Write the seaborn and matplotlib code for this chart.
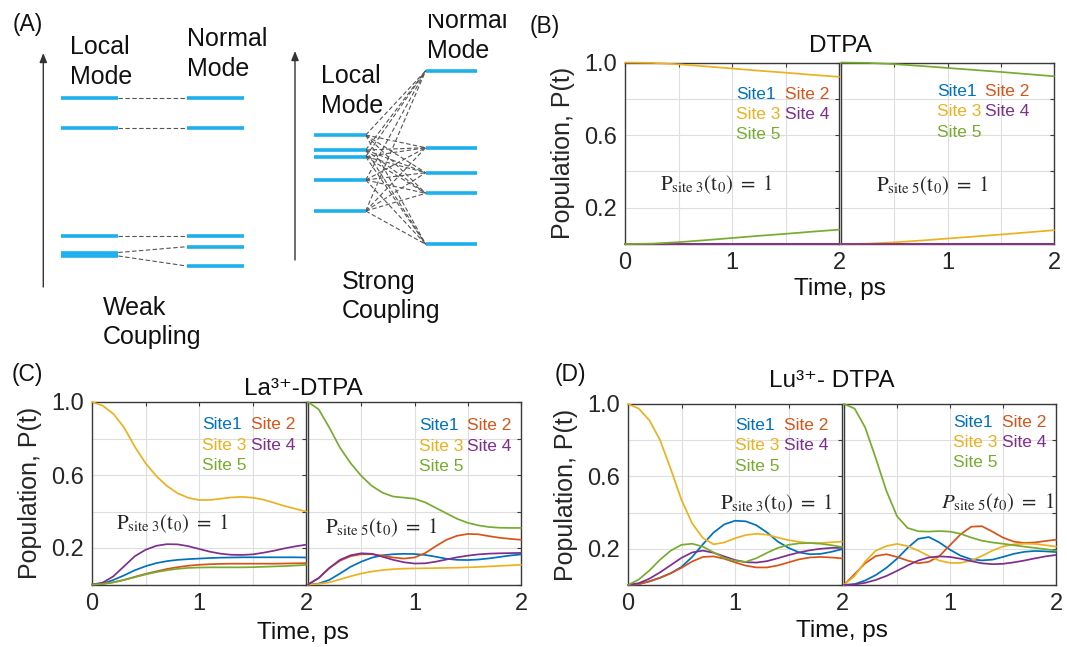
import numpy as np
import pandas as pd
import matplotlib
matplotlib.use("Agg")
import matplotlib.pyplot as plt
from matplotlib.patches import Rectangle
import seaborn as sns

# ---------------------------------------------------------------- data
SITES = ["Site1", "Site 2", "Site 3", "Site 4", "Site 5"]
SITE_COLORS = ["#0072BD", "#D95319", "#EDB120", "#7E2F8E", "#77AC30"]

T_COARSE = [0.0, 0.25, 0.5, 0.75, 1.0, 1.25, 1.5, 1.75, 2.0]
T_FINE = [0.0, 0.1, 0.2, 0.3, 0.4, 0.5, 0.6, 0.7, 0.8, 0.9, 1.0,
          1.1, 1.2, 1.3, 1.4, 1.5, 1.6, 1.7, 1.8, 1.9, 2.0]

# free DTPA, population initially on site 3
dtpa3_site1 = [0.0, 0.0, 0.0, 0.0, 0.0, 0.0, 0.0, 0.0, 0.0]
dtpa3_site2 = [0.0, 0.0, 0.0, 0.0, 0.0, 0.0, 0.0, 0.0, 0.0]
dtpa3_site3 = [1.0, 0.998, 0.99, 0.979, 0.967, 0.955, 0.944, 0.932, 0.921]
dtpa3_site4 = [0.0, 0.0, 0.0, 0.0, 0.0, 0.0, 0.0, 0.0, 0.0]
dtpa3_site5 = [0.0, 0.002, 0.01, 0.021, 0.033, 0.045, 0.056, 0.068, 0.079]
# free DTPA, population initially on site 5
dtpa5_site1 = [0.0, 0.0, 0.0, 0.0, 0.0, 0.0, 0.0, 0.0, 0.0]
dtpa5_site2 = [0.0, 0.0, 0.0, 0.0, 0.0, 0.0, 0.0, 0.0, 0.0]
dtpa5_site3 = [0.0, 0.002, 0.009, 0.019, 0.03, 0.041, 0.052, 0.064, 0.076]
dtpa5_site4 = [0.0, 0.0, 0.0, 0.0, 0.0, 0.0, 0.0, 0.0, 0.0]
dtpa5_site5 = [1.0, 0.998, 0.991, 0.981, 0.97, 0.959, 0.948, 0.936, 0.924]

# La3+-DTPA, initially on site 3
la3_site1 = [0.0, 0.004, 0.025, 0.05, 0.078, 0.1, 0.117, 0.128, 0.135, 0.139, 0.142,
             0.145, 0.147, 0.148, 0.149, 0.149, 0.149, 0.149, 0.149, 0.149, 0.148]
la3_site2 = [0.0, 0.003, 0.012, 0.025, 0.042, 0.058, 0.072, 0.085, 0.095, 0.103, 0.108,
             0.111, 0.113, 0.114, 0.114, 0.114, 0.114, 0.114, 0.115, 0.116, 0.117]
la3_site3 = [1.0, 0.98, 0.935, 0.86, 0.755, 0.665, 0.595, 0.54, 0.5, 0.475, 0.463,
             0.463, 0.47, 0.477, 0.48, 0.476, 0.465, 0.448, 0.43, 0.415, 0.4]
la3_site4 = [0.0, 0.01, 0.045, 0.1, 0.155, 0.19, 0.212, 0.221, 0.22, 0.21, 0.195,
             0.18, 0.169, 0.163, 0.162, 0.165, 0.174, 0.185, 0.198, 0.209, 0.218]
la3_site5 = [0.0, 0.003, 0.012, 0.025, 0.04, 0.055, 0.068, 0.078, 0.086, 0.091, 0.093,
             0.094, 0.094, 0.094, 0.094, 0.095, 0.097, 0.099, 0.101, 0.104, 0.107]
# La3+-DTPA, initially on site 5
la5_site1 = [0.0, 0.005, 0.025, 0.06, 0.097, 0.125, 0.147, 0.16, 0.166, 0.168, 0.167,
             0.162, 0.152, 0.141, 0.135, 0.134, 0.137, 0.143, 0.151, 0.159, 0.165]
la5_site2 = [0.0, 0.035, 0.09, 0.13, 0.155, 0.166, 0.166, 0.158, 0.148, 0.142, 0.148,
             0.172, 0.21, 0.245, 0.267, 0.277, 0.275, 0.265, 0.256, 0.25, 0.245]
la5_site3 = [0.0, 0.003, 0.012, 0.028, 0.045, 0.06, 0.071, 0.079, 0.084, 0.087, 0.088,
             0.089, 0.09, 0.091, 0.092, 0.094, 0.096, 0.099, 0.102, 0.105, 0.108]
la5_site4 = [0.0, 0.035, 0.09, 0.135, 0.16, 0.171, 0.168, 0.152, 0.135, 0.122, 0.115,
             0.116, 0.125, 0.137, 0.149, 0.158, 0.165, 0.169, 0.171, 0.172, 0.173]
la5_site5 = [1.0, 0.96, 0.86, 0.75, 0.665, 0.595, 0.54, 0.503, 0.482, 0.476, 0.47,
             0.45, 0.42, 0.39, 0.36, 0.338, 0.324, 0.315, 0.311, 0.31, 0.31]

# Lu3+-DTPA, initially on site 3
lu3_site1 = [0.0, 0.005, 0.02, 0.04, 0.065, 0.1, 0.155, 0.225, 0.29, 0.335, 0.355,
             0.352, 0.33, 0.29, 0.24, 0.205, 0.18, 0.17, 0.172, 0.183, 0.198]
lu3_site2 = [0.0, 0.005, 0.02, 0.04, 0.065, 0.095, 0.13, 0.155, 0.158, 0.145, 0.125,
             0.107, 0.097, 0.097, 0.108, 0.125, 0.142, 0.152, 0.155, 0.152, 0.147]
lu3_site3 = [1.0, 0.975, 0.91, 0.8, 0.64, 0.47, 0.34, 0.26, 0.225, 0.235, 0.258,
             0.276, 0.283, 0.278, 0.262, 0.248, 0.238, 0.232, 0.232, 0.236, 0.24]
lu3_site4 = [0.0, 0.01, 0.035, 0.07, 0.11, 0.15, 0.18, 0.19, 0.178, 0.158, 0.138,
             0.126, 0.124, 0.132, 0.148, 0.165, 0.18, 0.192, 0.2, 0.205, 0.205]
lu3_site5 = [0.0, 0.03, 0.08, 0.14, 0.19, 0.222, 0.228, 0.212, 0.18, 0.15, 0.133,
             0.128, 0.148, 0.178, 0.205, 0.222, 0.23, 0.232, 0.228, 0.22, 0.21]
# Lu3+-DTPA, initially on site 5
lu5_site1 = [0.0, 0.005, 0.025, 0.055, 0.095, 0.145, 0.205, 0.255, 0.265, 0.235, 0.195,
             0.162, 0.142, 0.136, 0.14, 0.155, 0.172, 0.183, 0.188, 0.186, 0.182]
lu5_site2 = [0.0, 0.06, 0.12, 0.16, 0.17, 0.155, 0.135, 0.12, 0.128, 0.16, 0.22,
             0.28, 0.322, 0.325, 0.295, 0.262, 0.24, 0.232, 0.235, 0.243, 0.25]
lu5_site3 = [0.0, 0.05, 0.13, 0.19, 0.215, 0.227, 0.215, 0.19, 0.16, 0.135, 0.122,
             0.122, 0.135, 0.16, 0.19, 0.213, 0.225, 0.228, 0.227, 0.22, 0.212]
lu5_site4 = [0.0, 0.003, 0.012, 0.028, 0.05, 0.078, 0.108, 0.135, 0.152, 0.158, 0.155,
             0.145, 0.132, 0.12, 0.115, 0.117, 0.125, 0.135, 0.147, 0.158, 0.166]
lu5_site5 = [1.0, 0.975, 0.87, 0.7, 0.52, 0.38, 0.315, 0.297, 0.295, 0.298, 0.295,
             0.283, 0.262, 0.245, 0.235, 0.228, 0.22, 0.212, 0.205, 0.198, 0.19]

# energy-level schematic (vertical position on the drawing, top = 0)
weak_local = [98, 128, 236, 252.5, 256]
weak_normal = [98, 128, 236, 246.7, 266]
strong_local = [135, 150, 156.7, 180, 211]
strong_normal = [70.7, 147.7, 172.7, 193.3, 244.3]

# ---------------------------------------------------------------- style
sns.set_style("white")
plt.rcParams["font.family"] = ["Liberation Sans", "DejaVu Sans"]

W, H = 1067, 647
fig = plt.figure(figsize=(W / 100, H / 100), dpi=100)
fig.patch.set_facecolor("white")

palette = dict(zip(SITES, SITE_COLORS))
FRAME = "#3a3a3a"
LEVEL = "#1cb0ee"


def px_axes(x0, x1, y0, y1):
    return fig.add_axes([x0 / W, 1 - y1 / H, (x1 - x0) / W, (y1 - y0) / H])


def to_frame(t, series):
    return pd.DataFrame({
        "Time": np.tile(np.asarray(t, float), len(series)),
        "P": np.concatenate([np.asarray(s, float) for s in series]),
        "Site": np.repeat(SITES, len(t)),
    })


def draw_panel(ax, t, series, left, init_site, legend_xy, note_xy, note_ha,
               italic=False):
    sns.lineplot(data=to_frame(t, series), x="Time", y="P", hue="Site",
                 hue_order=SITES, palette=palette, legend=False, ax=ax,
                 linewidth=1.25, estimator=None, sort=False)
    for ln in ax.lines:
        ln.set_clip_on(False)
        ln.set_zorder(3)
        ln.set_solid_joinstyle("round")
    ax.set_xlim(0, 2)
    ax.set_ylim(0, 1)
    ax.set_xticks([0, 0.5, 1, 1.5, 2])
    ax.set_yticks([0, 0.2, 0.4, 0.6, 0.8, 1.0])
    if left:
        ax.set_xticklabels(["0", "", "1", "", "2"])
        ax.set_yticklabels(["", "0.2", "", "0.6", "", "1.0"])
        ax.set_ylabel("Population, P(t)", fontsize=18)
        ax.yaxis.set_label_coords(-0.232, 0.5)
    else:
        ax.set_xticklabels(["", "", "1", "", "2"])
        ax.set_yticklabels([])
        ax.set_ylabel("")
    ax.set_xlabel("")
    ax.grid(True, color="#dedede", linewidth=0.8)
    ax.set_axisbelow(True)
    ax.tick_params(direction="in", length=3, width=0.8, color=FRAME,
                   top=True, right=True, labelsize=17, pad=6)
    for sp in ax.spines.values():
        sp.set_color(FRAME)
        sp.set_linewidth(1.0)
        sp.set_visible(True)
    # coloured site key
    lx, ly = legend_xy
    col2 = lx + 0.228
    rows = [ly, ly - 0.112, ly - 0.224]
    pos = [(lx, rows[0]), (col2, rows[0]), (lx, rows[1]), (col2, rows[1]), (lx, rows[2])]
    for name, color, (x, y) in zip(SITES, SITE_COLORS, pos):
        ax.text(x, y, name, color=color, fontsize=12.5, ha="left", va="center",
                transform=ax.transAxes)
    if italic:
        note = r"$P_{\mathrm{site\ %d}}(t_0)\ =\ 1$" % init_site
    else:
        note = r"$\mathrm{P}_{\mathrm{site\ %d}}(\mathrm{t}_0)\ =\ 1$" % init_site
    ax.text(note_xy[0], note_xy[1], note, fontsize=15, ha=note_ha, va="center",
            transform=ax.transAxes, math_fontfamily="stix", zorder=4)


# ---------------------------------------------------------------- panel A
axA = fig.add_axes([0, 0, 1, 1], zorder=-1)
axA.set_xlim(0, W)
axA.set_ylim(H, 0)
axA.axis("off")

arrow = dict(arrowstyle="-|>,head_length=0.55,head_width=0.22", color="#333333",
             lw=1.0, shrinkA=0, shrinkB=0)
axA.annotate("", xy=(43.3, 53), xytext=(43.3, 287), arrowprops=arrow)
axA.annotate("", xy=(295, 51), xytext=(295, 260), arrowprops=arrow)

dash = dict(color="#555555", lw=0.8, ls=(0, (4, 2.2)))
for yl, yn in zip(weak_local, weak_normal):
    axA.plot([118.3, 186.7], [yl, yn], **dash)
for yl in strong_local:
    for yn in strong_normal:
        axA.plot([365.7, 425.7], [yl, yn], **dash)
axA.hlines(weak_local, 61, 118.3, color=LEVEL, lw=2.6)
axA.hlines(weak_normal, 186.7, 244.3, color=LEVEL, lw=2.6)
axA.hlines(strong_local, 314, 365.7, color=LEVEL, lw=2.6)
axA.hlines(strong_normal, 425.7, 476.7, color=LEVEL, lw=2.6)

txtA = dict(fontsize=18, ha="left", va="baseline", color="#111111")
axA.text(70, 54, "Local", **txtA)
axA.text(70, 84, "Mode", **txtA)
axA.text(187, 46, "Normal", **txtA)
axA.text(187, 76, "Mode", **txtA)
axA.text(103, 315, "Weak", **txtA)
axA.text(103, 344, "Coupling", **txtA)
axA.text(320.7, 83, "Local", **txtA)
axA.text(320.7, 113, "Mode", **txtA)
axA.text(341.7, 289, "Strong", **txtA)
axA.text(341.7, 318, "Coupling", **txtA)
top_word = axA.text(426.7, 28, "Normal", clip_on=True, **txtA)
top_word.set_clip_path(Rectangle((400, 14), 150, 60, transform=axA.transData))
axA.text(426.7, 58, "Mode", **txtA)

lab = dict(fontsize=16.5, ha="left", va="baseline", color="#111111")
axA.text(12.7, 31, "(A)", **lab)
axA.text(530, 33, "(B)", **lab)
axA.text(12, 381, "(C)", **lab)
axA.text(555, 381, "(D)", **lab)

# ---------------------------------------------------------------- panel B
b1 = px_axes(625, 839, 62.5, 244)
b2 = px_axes(841, 1054, 62.5, 244)
draw_panel(b1, T_COARSE, [dtpa3_site1, dtpa3_site2, dtpa3_site3, dtpa3_site4, dtpa3_site5],
           True, 3, (0.52, 0.825), (0.425, 0.325), "center")
draw_panel(b2, T_COARSE, [dtpa5_site1, dtpa5_site2, dtpa5_site3, dtpa5_site4, dtpa5_site5],
           False, 5, (0.45, 0.84), (0.43, 0.32), "center")

# ---------------------------------------------------------------- panel C
c1 = px_axes(92, 306, 402, 584.5)
c2 = px_axes(308, 521, 402, 584.5)
draw_panel(c1, T_FINE, [la3_site1, la3_site2, la3_site3, la3_site4, la3_site5],
           True, 3, (0.515, 0.874), (0.375, 0.335), "center")
draw_panel(c2, T_FINE, [la5_site1, la5_site2, la5_site3, la5_site4, la5_site5],
           False, 5, (0.52, 0.87), (0.345, 0.31), "center")

# ---------------------------------------------------------------- panel D
d1 = px_axes(628, 842, 404, 585)
d2 = px_axes(844, 1056, 404, 585)
draw_panel(d1, T_FINE, [lu3_site1, lu3_site2, lu3_site3, lu3_site4, lu3_site5],
           True, 3, (0.50, 0.88), (0.955, 0.45), "right")
draw_panel(d2, T_FINE, [lu5_site1, lu5_site2, lu5_site3, lu5_site4, lu5_site5],
           False, 5, (0.515, 0.90), (0.99, 0.457), "right", italic=True)

# ---------------------------------------------------------------- shared titles / labels
def fig_text(x, y, s, **kw):
    fig.text(x / W, 1 - y / H, s, ha="center", va="baseline", color="#111111", **kw)


fig_text(840, 52, "DTPA", fontsize=17.5)
fig_text(303, 395, "La\u00b3\u207a-DTPA", fontsize=17.5)
fig_text(832, 387, "Lu\u00b3\u207a- DTPA", fontsize=17.5)
fig_text(840, 295, "Time, ps", fontsize=17.5)
fig_text(303, 639, "Time, ps", fontsize=17.5)
fig_text(842, 637, "Time, ps", fontsize=17.5)

fig.savefig("out.png", dpi=100, facecolor="white")
